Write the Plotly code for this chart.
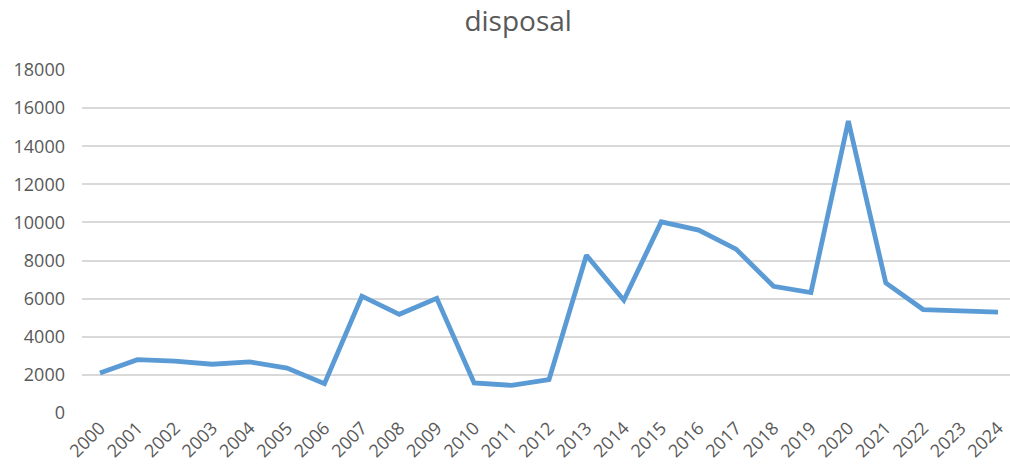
import plotly.graph_objects as go

years = [str(y) for y in range(2000, 2025)]
disposal = [2100, 2800, 2720, 2560, 2680, 2360, 1540, 6130, 5180, 6020,
            1580, 1450, 1750, 8280, 5920, 10030, 9600, 8600, 6650, 6320,
            15320, 6830, 5430, 5380, 5290]
y_ticks = list(range(0, 18001, 2000))

fig = go.Figure(
    go.Scatter(
        x=years,
        y=disposal,
        mode="lines",
        line=dict(color="#5b9bd5", width=4.8),
        hoverinfo="x+y",
    )
)

fig.update_layout(
    width=1010,
    height=473,
    margin=dict(l=82, r=0, t=70, b=60),
    paper_bgcolor="white",
    plot_bgcolor="white",
    showlegend=False,
    font=dict(family="Open Sans, sans-serif", color="#595959", size=18),
    title=dict(
        text="disposal",
        x=0.513,
        xanchor="center",
        y=0.955,
        yanchor="middle",
        font=dict(size=28, color="#595959"),
    ),
)

fig.update_xaxes(
    type="category",
    range=[-0.48, 24.32],
    showgrid=False,
    showline=False,
    zeroline=False,
    tickangle=-45,
    ticks="",
    tickfont=dict(size=18),
)

fig.update_yaxes(
    range=[0, 18000],
    tickvals=y_ticks,
    ticktext=[str(v) for v in y_ticks],
    showgrid=True,
    gridcolor="#d9d9d9",
    gridwidth=1.5,
    zeroline=False,
    showline=False,
    ticks="",
    ticklabelstandoff=16,
    tickfont=dict(size=18),
)

fig.write_html("out.html")
